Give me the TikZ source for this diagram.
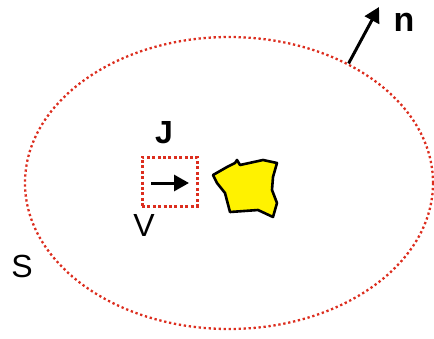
\documentclass[tikz,border=0pt]{standalone}
\usepackage{fontspec}
\setmainfont{Liberation Sans}
\usetikzlibrary{shapes.geometric,arrows.meta}
\definecolor{dotred}{RGB}{220,45,30}
\tikzstyle{surf}=[shape=ellipse, draw=dotred, line width=2.3pt, dash pattern=on 2.3pt off 2.7pt, inner sep=0]
\tikzstyle{vol}=[shape=rectangle, draw=dotred, line width=3pt, dash pattern=on 3pt off 2.4pt, inner sep=0]
\tikzstyle{vec}=[line width=3pt, -{Triangle[length=15pt,width=16pt]}]
\tikzstyle{lbl}=[inner sep=0, font=\fontsize{32}{36}\selectfont]

\begin{document}
\begin{tikzpicture}[x=1pt,y=-1pt]
\useasboundingbox (0,0) rectangle (434,338);
\draw (229,183) node[surf, minimum width=408pt, minimum height=292pt](S) {};
\draw (169.5,181.5) node[vol, minimum width=55pt, minimum height=49pt](V) {};
% current arrow inside the small volume
\coordinate (j1) at (151,183);
\coordinate (j2) at (189,183);
\draw[vec] (j1)--(j2);
% the body
\draw[line width=2.6pt, fill=yellow, line join=round]
  (213,175)--(227,167)--(235,163)--(237,160)--(240,165)--(263,160)--(277,163)
  --(273,177)--(272,190)--(277,203)--(273,217)--(258,210)--(230,212)
  --(225,193)--(217,183)--cycle;
% outward normal
\coordinate (nhead) at (379,7);
\draw[vec] (S.45.7)--(nhead);
\node[lbl, font=\fontsize{34}{38}\selectfont\bfseries] (nlbl) at (404,22) {n};
\node[lbl, font=\fontsize{32}{36}\selectfont\bfseries] (jlbl) at (164,133) {J};
\node[lbl] (vlbl) at (144,225) {V};
\node[lbl] (slbl) at (22,266) {S};
\end{tikzpicture}
\end{document}
